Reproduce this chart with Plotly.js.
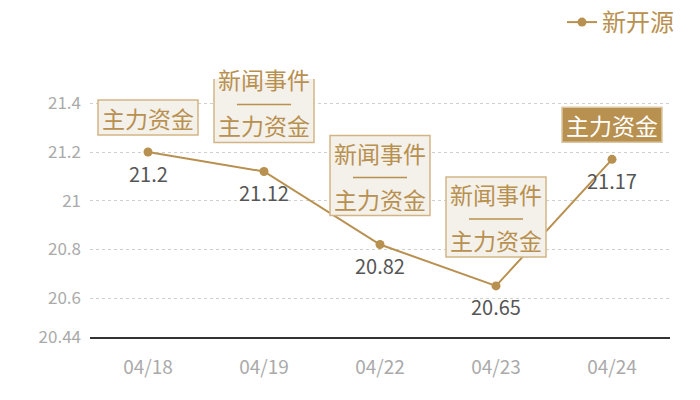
<!DOCTYPE html>
<html><head><meta charset="utf-8">
<script src="https://cdn.plot.ly/plotly-3.0.1.min.js"></script>
<style>body{margin:0;}#chart{width:700px;height:400px;}</style>
</head><body><div id="chart"></div>
<script>
var dates = ["04/18","04/19","04/22","04/23","04/24"];
var prices = [21.2, 21.12, 20.82, 20.65, 21.17];
var labels = ["21.2","21.12","20.82","20.65","21.17"];
var eventTop = ["","新闻事件","新闻事件","新闻事件",""];
var eventMain = ["主力资金","主力资金","主力资金","主力资金","主力资金"];
var highlighted = [false,false,false,false,true];
var yTicks = [20.44,20.6,20.8,21,21.2,21.4];
var yTickText = ["20.44","20.6","20.8","21","21.2","21.4"];

var gold = "#b8904f";
var font = "Noto Sans CJK SC, sans-serif";

var trace = {
  x: dates, y: prices, type: "scatter", mode: "lines+markers",
  name: "新开源",
  line: {color: gold, width: 2},
  marker: {color: gold, size: 9},
  cliponaxis: false
};

var shapes = [];
var annotations = [];
dates.forEach(function(d,i){
  var multi = eventTop[i] !== "";
  var gap = multi ? 29 : 17;
  var h = multi ? 80 : 35;
  shapes.push({
    type: "rect", xref: "x", yref: "y",
    xsizemode: "pixel", ysizemode: "pixel",
    xanchor: i, yanchor: prices[i],
    x0: -50, x1: 50, y0: gap, y1: gap + h,
    fillcolor: highlighted[i] ? gold : "#f4f0ea",
    line: {color: highlighted[i] ? "#dcc7a2" : "#d3b585", width: 1.5},
    layer: "above"
  });
  var tfont = {family: font, size: 23, color: highlighted[i] ? "#ffffff" : gold};
  annotations.push({x: d, y: prices[i], xref: "x", yref: "y", text: eventMain[i],
    showarrow: false, yanchor: "middle", yshift: gap + 17, font: tfont});
  if (multi) {
    shapes.push({
      type: "line", xref: "x", yref: "y",
      xsizemode: "pixel", ysizemode: "pixel",
      xanchor: i, yanchor: prices[i],
      x0: -27, x1: 27, y0: gap + 38, y1: gap + 38,
      line: {color: gold, width: 1.5}, layer: "above"
    });
    annotations.push({x: d, y: prices[i], xref: "x", yref: "y", text: eventTop[i],
      showarrow: false, yanchor: "middle", yshift: gap + 63, font: tfont});
  }
  annotations.push({x: d, y: prices[i], xref: "x", yref: "y", text: labels[i],
    showarrow: false, yanchor: "middle", yshift: -21,
    font: {family: font, size: 20, color: "#555555"}});
});

var layout = {
  width: 700, height: 400,
  margin: {l: 90, r: 30, t: 79, b: 63, autoexpand: false},
  paper_bgcolor: "#ffffff", plot_bgcolor: "#ffffff",
  font: {family: font},
  showlegend: true,
  legend: {xref: "container", yref: "container", x: 0.97, xanchor: "right", y: 1.0, yanchor: "top",
    font: {family: font, size: 24, color: gold}, bgcolor: "rgba(0,0,0,0)",
    itemwidth: 30},
  xaxis: {
    type: "category", range: [-0.5, 4.5], automargin: false,
    showgrid: false, zeroline: false,
    showline: true, linecolor: "#333", linewidth: 1.5,
    ticks: "", tickfont: {family: font, size: 19, color: "#aaaaaa"},
    ticklabelstandoff: 12
  },
  yaxis: {
    range: [20.44, 21.5], automargin: false,
    tickmode: "array", tickvals: yTicks, ticktext: yTickText,
    showgrid: true, gridcolor: "#d0d0d0", griddash: "dot", gridwidth: 1,
    zeroline: false, showline: false, ticks: "",
    tickfont: {family: font, size: 17, color: "#aaaaaa"},
    ticklabelstandoff: 8
  },
  shapes: shapes,
  annotations: annotations
};

Plotly.newPlot("chart", [trace], layout, {displayModeBar: false});
</script></body></html>
